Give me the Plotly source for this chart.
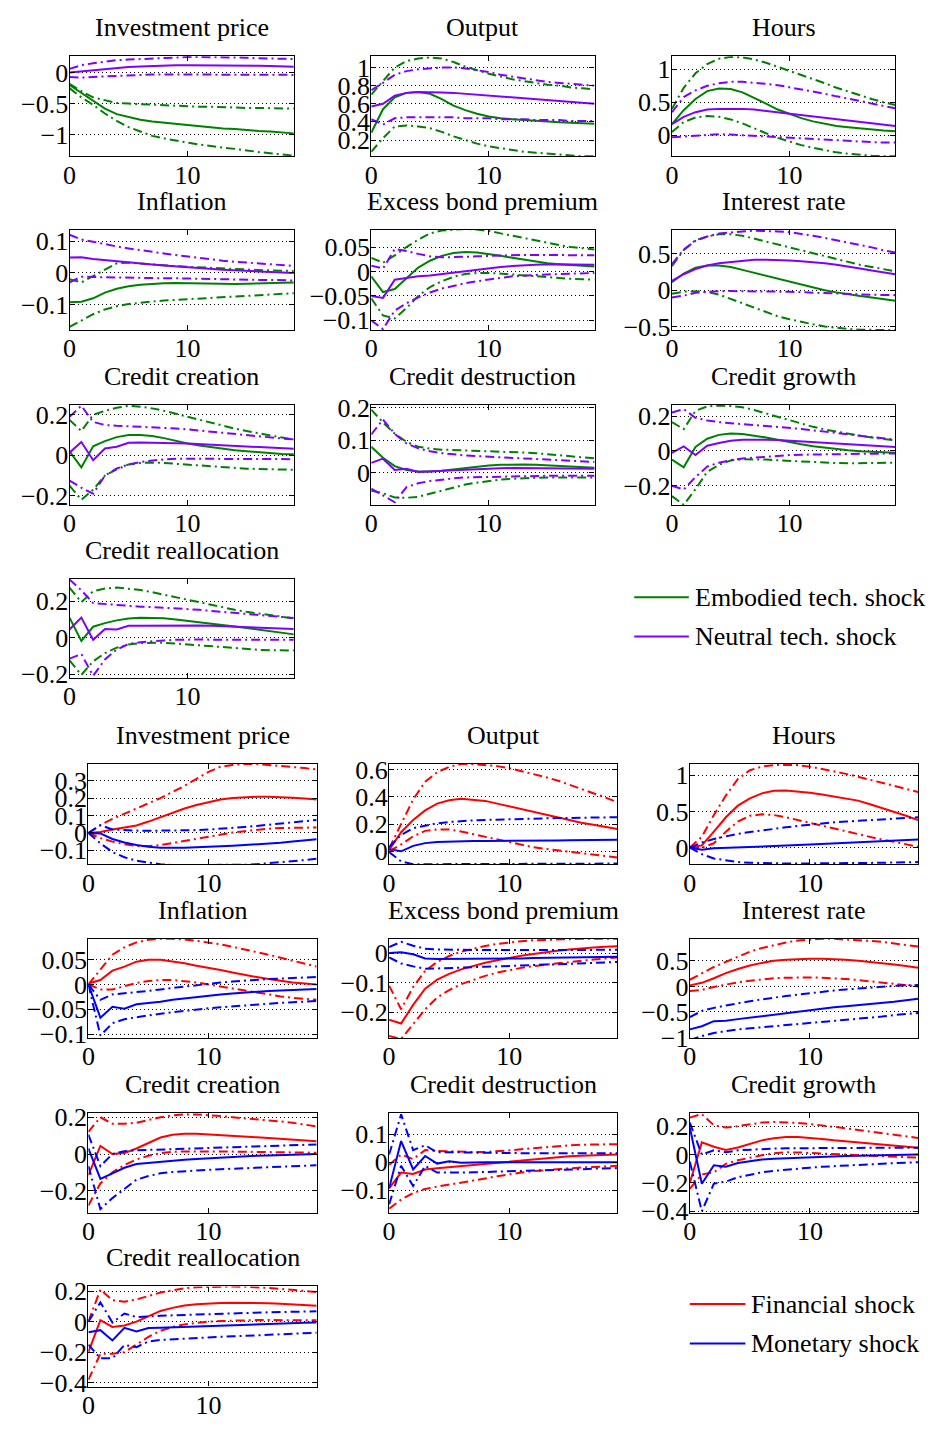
import plotly.graph_objects as go

# Impulse-response horizons (quarters)
H = list(range(20))

# ---------------- Embodied vs neutral technology shocks ----------------
EMB_INVP_M = [-0.2, -0.33, -0.45, -0.58, -0.67, -0.72, -0.76, -0.79, -0.81, -0.83, -0.85, -0.87, -0.88, -0.9, -0.91, -0.93, -0.94, -0.95, -0.97, -0.98]
EMB_INVP_U = [-0.18, -0.3, -0.4, -0.45, -0.49, -0.5, -0.51, -0.52, -0.53, -0.54, -0.54, -0.55, -0.55, -0.56, -0.56, -0.57, -0.57, -0.57, -0.58, -0.58]
EMB_INVP_L = [-0.25, -0.4, -0.52, -0.66, -0.78, -0.88, -0.95, -1.02, -1.06, -1.1, -1.13, -1.16, -1.19, -1.21, -1.23, -1.26, -1.28, -1.3, -1.32, -1.34]
NEU_INVP_M = [0.0, 0.02, 0.04, 0.06, 0.075, 0.09, 0.1, 0.11, 0.115, 0.12, 0.12, 0.12, 0.12, 0.12, 0.12, 0.115, 0.11, 0.105, 0.1, 0.095]
NEU_INVP_U = [0.06, 0.12, 0.15, 0.18, 0.2, 0.21, 0.22, 0.23, 0.24, 0.25, 0.25, 0.25, 0.25, 0.25, 0.24, 0.24, 0.23, 0.23, 0.22, 0.22]
NEU_INVP_L = [-0.07, -0.08, -0.07, -0.06, -0.05, -0.04, -0.035, -0.03, -0.03, -0.03, -0.03, -0.03, -0.03, -0.03, -0.03, -0.03, -0.035, -0.035, -0.035, -0.037]

EMB_OUT_M = [0.28, 0.54, 0.67, 0.72, 0.73, 0.71, 0.65, 0.58, 0.53, 0.49, 0.46, 0.44, 0.43, 0.42, 0.41, 0.4, 0.395, 0.39, 0.385, 0.38]
EMB_OUT_U = [0.7, 0.85, 1.0, 1.07, 1.1, 1.11, 1.1, 1.06, 1.01, 0.97, 0.93, 0.9, 0.87, 0.85, 0.83, 0.81, 0.8, 0.78, 0.77, 0.76]
EMB_OUT_L = [0.07, 0.22, 0.35, 0.36, 0.35, 0.33, 0.29, 0.24, 0.2, 0.16, 0.13, 0.11, 0.09, 0.07, 0.06, 0.05, 0.04, 0.03, 0.02, 0.02]
NEU_OUT_M = [0.57, 0.6, 0.69, 0.72, 0.73, 0.73, 0.725, 0.72, 0.71, 0.7, 0.69, 0.68, 0.67, 0.66, 0.65, 0.64, 0.63, 0.62, 0.61, 0.6]
NEU_OUT_U = [0.75, 0.83, 0.92, 0.96, 0.98, 0.99, 1.0, 1.0, 0.99, 0.97, 0.95, 0.92, 0.9, 0.88, 0.86, 0.84, 0.83, 0.82, 0.81, 0.8]
NEU_OUT_L = [0.43, 0.37, 0.44, 0.45, 0.45, 0.45, 0.45, 0.45, 0.44, 0.44, 0.44, 0.43, 0.43, 0.43, 0.42, 0.42, 0.42, 0.41, 0.41, 0.41]

EMB_HRS_M = [0.17, 0.38, 0.55, 0.67, 0.71, 0.7, 0.65, 0.57, 0.48, 0.39, 0.32, 0.26, 0.21, 0.17, 0.14, 0.12, 0.1, 0.08, 0.07, 0.06]
EMB_HRS_U = [0.4, 0.72, 0.94, 1.08, 1.16, 1.19, 1.18, 1.15, 1.1, 1.04, 0.98, 0.91, 0.85, 0.79, 0.72, 0.66, 0.6, 0.55, 0.5, 0.46]
EMB_HRS_L = [0.05, 0.2, 0.27, 0.29, 0.28, 0.24, 0.18, 0.1, 0.03, -0.04, -0.1, -0.15, -0.19, -0.23, -0.26, -0.28, -0.3, -0.31, -0.32, -0.32]
NEU_HRS_M = [0.17, 0.28, 0.35, 0.39, 0.4, 0.405, 0.4, 0.39, 0.37, 0.35, 0.33, 0.31, 0.29, 0.27, 0.25, 0.22, 0.2, 0.18, 0.16, 0.14]
NEU_HRS_U = [0.35, 0.58, 0.68, 0.75, 0.79, 0.81, 0.81, 0.8, 0.78, 0.76, 0.73, 0.7, 0.66, 0.63, 0.59, 0.56, 0.52, 0.48, 0.44, 0.41]
NEU_HRS_L = [-0.03, -0.02, 0.0, 0.01, 0.015, 0.01, 0.0, -0.01, -0.025, -0.035, -0.045, -0.055, -0.065, -0.075, -0.085, -0.09, -0.1, -0.105, -0.11, -0.11]

EMB_INF_M = [-0.092, -0.091, -0.08, -0.062, -0.05, -0.042, -0.037, -0.034, -0.033, -0.032, -0.033, -0.034, -0.035, -0.035, -0.035, -0.034, -0.033, -0.032, -0.031, -0.03]
EMB_INF_U = [-0.02, -0.03, -0.01, 0.01, 0.03, 0.032, 0.03, 0.027, 0.024, 0.021, 0.019, 0.017, 0.015, 0.013, 0.011, 0.01, 0.009, 0.008, 0.007, 0.006]
EMB_INF_L = [-0.17, -0.15, -0.13, -0.115, -0.105, -0.098, -0.093, -0.09, -0.087, -0.085, -0.083, -0.081, -0.079, -0.077, -0.075, -0.073, -0.071, -0.068, -0.066, -0.064]
NEU_INF_M = [0.048, 0.049, 0.044, 0.04, 0.036, 0.033, 0.03, 0.026, 0.023, 0.02, 0.017, 0.015, 0.012, 0.01, 0.008, 0.006, 0.004, 0.002, 0.001, 0.0]
NEU_INF_U = [0.12, 0.105, 0.098, 0.09, 0.083, 0.077, 0.071, 0.066, 0.061, 0.056, 0.051, 0.047, 0.042, 0.038, 0.035, 0.032, 0.029, 0.026, 0.024, 0.022]
NEU_INF_L = [-0.03, -0.012, -0.013, -0.014, -0.015, -0.015, -0.016, -0.016, -0.017, -0.017, -0.018, -0.018, -0.019, -0.019, -0.02, -0.021, -0.022, -0.022, -0.023, -0.024]

EMB_EBP_M = [-0.01, -0.042, -0.036, -0.015, 0.008, 0.022, 0.032, 0.038, 0.04, 0.039, 0.036, 0.032, 0.028, 0.024, 0.02, 0.017, 0.015, 0.013, 0.011, 0.01]
EMB_EBP_U = [0.028, 0.018, 0.033, 0.05, 0.065, 0.078, 0.084, 0.086, 0.087, 0.086, 0.083, 0.078, 0.073, 0.068, 0.063, 0.058, 0.054, 0.05, 0.047, 0.045]
EMB_EBP_L = [-0.055, -0.09, -0.096, -0.075, -0.05, -0.032, -0.02, -0.011, -0.005, -0.003, -0.003, -0.004, -0.006, -0.008, -0.01, -0.012, -0.014, -0.015, -0.016, -0.017]
NEU_EBP_M = [-0.05, -0.054, -0.017, -0.013, -0.01, -0.008, -0.005, -0.002, 0.001, 0.004, 0.007, 0.009, 0.011, 0.013, 0.014, 0.015, 0.015, 0.015, 0.014, 0.014]
NEU_EBP_U = [0.012, 0.006, 0.046, 0.042, 0.036, 0.031, 0.029, 0.029, 0.03, 0.031, 0.032, 0.033, 0.034, 0.034, 0.034, 0.034, 0.034, 0.034, 0.034, 0.033]
NEU_EBP_L = [-0.1, -0.118, -0.08, -0.065, -0.053, -0.043, -0.035, -0.029, -0.024, -0.02, -0.016, -0.013, -0.01, -0.008, -0.007, -0.006, -0.005, -0.004, -0.003, -0.003]

EMB_INT_M = [0.11, 0.23, 0.31, 0.34, 0.34, 0.32, 0.28, 0.24, 0.2, 0.15, 0.11, 0.07, 0.03, 0.0, -0.03, -0.06, -0.08, -0.1, -0.12, -0.145]
EMB_INT_U = [0.33, 0.55, 0.69, 0.74, 0.77, 0.77, 0.75, 0.71, 0.67, 0.62, 0.58, 0.54, 0.5, 0.46, 0.42, 0.38, 0.35, 0.32, 0.29, 0.26]
EMB_INT_L = [-0.05, -0.02, -0.015, -0.025, -0.06, -0.12, -0.18, -0.25, -0.31, -0.36, -0.4, -0.44, -0.47, -0.5, -0.52, -0.535, -0.545, -0.55, -0.55, -0.55]
NEU_INT_M = [0.13, 0.22, 0.29, 0.34, 0.37, 0.39, 0.41, 0.42, 0.42, 0.42, 0.41, 0.4, 0.39, 0.37, 0.35, 0.33, 0.3, 0.27, 0.245, 0.22]
NEU_INT_U = [0.36, 0.56, 0.68, 0.74, 0.78, 0.8, 0.81, 0.82, 0.82, 0.81, 0.8, 0.78, 0.75, 0.72, 0.69, 0.66, 0.62, 0.59, 0.55, 0.52]
NEU_INT_L = [-0.1, -0.075, -0.035, -0.02, -0.015, -0.012, -0.012, -0.013, -0.015, -0.018, -0.022, -0.028, -0.035, -0.042, -0.05, -0.055, -0.06, -0.063, -0.066, -0.068]

EMB_CC_M = [0.02, -0.06, 0.045, 0.07, 0.09, 0.1, 0.1, 0.095, 0.085, 0.07, 0.058, 0.048, 0.04, 0.032, 0.025, 0.02, 0.015, 0.01, 0.007, 0.005]
EMB_CC_U = [0.175, 0.12, 0.2, 0.22, 0.235, 0.245, 0.24, 0.232, 0.22, 0.205, 0.19, 0.175, 0.16, 0.145, 0.132, 0.12, 0.108, 0.098, 0.088, 0.078]
EMB_CC_L = [-0.15, -0.22, -0.17, -0.1, -0.07, -0.045, -0.038, -0.036, -0.038, -0.042, -0.047, -0.052, -0.057, -0.061, -0.064, -0.066, -0.068, -0.069, -0.07, -0.071]
NEU_CC_M = [0.013, 0.066, -0.024, 0.034, 0.042, 0.062, 0.063, 0.063, 0.062, 0.06, 0.058, 0.055, 0.052, 0.049, 0.046, 0.043, 0.04, 0.037, 0.034, 0.032]
NEU_CC_U = [0.19, 0.245, 0.165, 0.15, 0.146, 0.144, 0.142, 0.14, 0.137, 0.133, 0.128, 0.122, 0.116, 0.11, 0.104, 0.098, 0.093, 0.088, 0.083, 0.079]
NEU_CC_L = [-0.125, -0.16, -0.19, -0.1, -0.065, -0.045, -0.033, -0.025, -0.02, -0.017, -0.016, -0.016, -0.017, -0.018, -0.018, -0.019, -0.019, -0.019, -0.019, -0.019]

EMB_CD_M = [0.08, 0.046, 0.02, 0.008, 0.003, 0.003, 0.006, 0.01, 0.015, 0.019, 0.022, 0.024, 0.025, 0.025, 0.024, 0.022, 0.02, 0.018, 0.016, 0.015]
EMB_CD_U = [0.195, 0.155, 0.12, 0.095, 0.08, 0.074, 0.071, 0.07, 0.069, 0.068, 0.067, 0.066, 0.064, 0.062, 0.06, 0.057, 0.054, 0.05, 0.047, 0.044]
EMB_CD_L = [-0.056, -0.064, -0.077, -0.078, -0.075, -0.065, -0.055, -0.045, -0.037, -0.031, -0.026, -0.022, -0.019, -0.017, -0.016, -0.015, -0.015, -0.015, -0.015, -0.015]
NEU_CD_M = [0.03, 0.043, 0.008, 0.012, 0.002, 0.003, 0.005, 0.007, 0.009, 0.011, 0.012, 0.013, 0.014, 0.014, 0.014, 0.013, 0.013, 0.012, 0.012, 0.012]
NEU_CD_U = [0.118, 0.164, 0.12, 0.09, 0.075, 0.066, 0.06, 0.056, 0.053, 0.051, 0.049, 0.047, 0.045, 0.043, 0.041, 0.039, 0.037, 0.035, 0.034, 0.033]
NEU_CD_L = [-0.05, -0.072, -0.092, -0.045, -0.033, -0.026, -0.021, -0.018, -0.015, -0.014, -0.013, -0.012, -0.011, -0.011, -0.01, -0.01, -0.01, -0.01, -0.01, -0.01]

EMB_CG_M = [-0.05, -0.094, 0.023, 0.07, 0.092, 0.1, 0.097, 0.088, 0.077, 0.064, 0.05, 0.038, 0.027, 0.018, 0.01, 0.004, -0.002, -0.006, -0.008, -0.01]
EMB_CG_U = [0.165, 0.125, 0.23, 0.255, 0.26, 0.258, 0.25, 0.235, 0.215, 0.195, 0.175, 0.155, 0.138, 0.123, 0.11, 0.098, 0.087, 0.077, 0.068, 0.06]
EMB_CG_L = [-0.26, -0.31, -0.22, -0.12, -0.08, -0.055, -0.048, -0.047, -0.05, -0.054, -0.058, -0.062, -0.065, -0.068, -0.07, -0.071, -0.071, -0.07, -0.069, -0.068]
NEU_CG_M = [-0.011, 0.026, -0.024, 0.03, 0.045, 0.058, 0.064, 0.065, 0.064, 0.062, 0.058, 0.054, 0.05, 0.046, 0.042, 0.038, 0.034, 0.03, 0.026, 0.023]
NEU_CG_U = [0.22, 0.24, 0.19, 0.175, 0.165, 0.16, 0.155, 0.15, 0.145, 0.14, 0.133, 0.126, 0.118, 0.11, 0.102, 0.094, 0.086, 0.079, 0.071, 0.064]
NEU_CG_L = [-0.2, -0.222, -0.15, -0.09, -0.068, -0.053, -0.044, -0.038, -0.033, -0.028, -0.024, -0.022, -0.02, -0.019, -0.019, -0.018, -0.017, -0.016, -0.015, -0.015]

EMB_CR_M = [0.11, -0.018, 0.06, 0.08, 0.095, 0.105, 0.11, 0.11, 0.106, 0.1, 0.093, 0.085, 0.077, 0.069, 0.061, 0.053, 0.045, 0.037, 0.028, 0.018]
EMB_CR_U = [0.275, 0.195, 0.255, 0.27, 0.275, 0.27, 0.262, 0.25, 0.236, 0.222, 0.207, 0.192, 0.178, 0.165, 0.153, 0.142, 0.132, 0.122, 0.114, 0.106]
EMB_CR_L = [-0.125, -0.205, -0.13, -0.085, -0.055, -0.038, -0.03, -0.027, -0.028, -0.032, -0.037, -0.043, -0.049, -0.055, -0.06, -0.064, -0.067, -0.069, -0.07, -0.071]
NEU_CR_M = [0.045, 0.11, -0.012, 0.048, 0.045, 0.065, 0.066, 0.067, 0.068, 0.068, 0.068, 0.067, 0.065, 0.063, 0.061, 0.058, 0.056, 0.053, 0.05, 0.048]
NEU_CR_U = [0.32, 0.26, 0.19, 0.185, 0.178, 0.172, 0.17, 0.168, 0.165, 0.162, 0.158, 0.153, 0.147, 0.141, 0.135, 0.129, 0.123, 0.118, 0.113, 0.108]
NEU_CR_L = [-0.115, -0.09, -0.21, -0.12, -0.065, -0.035, -0.025, -0.019, -0.015, -0.012, -0.01, -0.01, -0.011, -0.011, -0.012, -0.012, -0.012, -0.012, -0.012, -0.012]

# ---------------- Financial vs monetary shocks ----------------
FIN_INVP_M = [0.0, 0.005, 0.02, 0.03, 0.043, 0.065, 0.09, 0.115, 0.14, 0.16, 0.178, 0.192, 0.2, 0.205, 0.207, 0.208, 0.206, 0.202, 0.197, 0.192]
FIN_INVP_U = [0.0, 0.045, 0.08, 0.11, 0.14, 0.17, 0.2, 0.235, 0.27, 0.31, 0.35, 0.38, 0.39, 0.395, 0.395, 0.39, 0.385, 0.38, 0.372, 0.364]
FIN_INVP_L = [0.0, -0.03, -0.05, -0.065, -0.075, -0.075, -0.07, -0.058, -0.045, -0.032, -0.02, -0.008, 0.002, 0.01, 0.018, 0.024, 0.028, 0.03, 0.031, 0.031]
MON_INVP_M = [0.0, -0.003, -0.035, -0.055, -0.07, -0.08, -0.085, -0.086, -0.085, -0.083, -0.081, -0.078, -0.074, -0.07, -0.066, -0.062, -0.057, -0.049, -0.042, -0.036]
MON_INVP_U = [0.0, 0.044, 0.02, 0.015, 0.013, 0.012, 0.012, 0.013, 0.014, 0.016, 0.019, 0.023, 0.028, 0.034, 0.04, 0.046, 0.052, 0.058, 0.066, 0.074]
MON_INVP_L = [0.0, -0.06, -0.11, -0.14, -0.16, -0.172, -0.18, -0.185, -0.185, -0.185, -0.185, -0.185, -0.185, -0.183, -0.18, -0.175, -0.17, -0.163, -0.156, -0.149]

FIN_OUT_M = [0.01, 0.14, 0.23, 0.3, 0.35, 0.375, 0.385, 0.38, 0.37, 0.35, 0.33, 0.305, 0.285, 0.265, 0.245, 0.225, 0.21, 0.195, 0.18, 0.164]
FIN_OUT_U = [0.02, 0.2, 0.38, 0.51, 0.58, 0.62, 0.64, 0.64, 0.635, 0.625, 0.61, 0.59, 0.57, 0.545, 0.52, 0.49, 0.46, 0.43, 0.395, 0.36]
FIN_OUT_L = [0.0, 0.05, 0.11, 0.15, 0.16, 0.16, 0.145, 0.125, 0.105, 0.085, 0.065, 0.045, 0.03, 0.018, 0.008, -0.002, -0.012, -0.025, -0.036, -0.046]
MON_OUT_M = [0.016, 0.0, 0.04, 0.06, 0.068, 0.072, 0.074, 0.075, 0.075, 0.075, 0.076, 0.077, 0.078, 0.079, 0.08, 0.081, 0.082, 0.083, 0.084, 0.085]
MON_OUT_U = [0.03, 0.12, 0.17, 0.19, 0.205, 0.215, 0.222, 0.227, 0.23, 0.233, 0.236, 0.238, 0.24, 0.242, 0.244, 0.245, 0.246, 0.247, 0.248, 0.25]
MON_OUT_L = [-0.005, -0.075, -0.095, -0.095, -0.094, -0.093, -0.092, -0.091, -0.09, -0.09, -0.09, -0.09, -0.09, -0.09, -0.09, -0.09, -0.09, -0.09, -0.09, -0.09]

FIN_HRS_M = [0.0, 0.03, 0.22, 0.42, 0.58, 0.68, 0.75, 0.785, 0.79, 0.78, 0.76, 0.735, 0.71, 0.68, 0.65, 0.6, 0.55, 0.5, 0.44, 0.38]
FIN_HRS_U = [0.0, 0.15, 0.45, 0.72, 0.95, 1.07, 1.12, 1.14, 1.145, 1.14, 1.12, 1.09, 1.06, 1.02, 0.98, 0.94, 0.9, 0.86, 0.82, 0.77]
FIN_HRS_L = [0.0, 0.0, 0.06, 0.22, 0.36, 0.44, 0.46, 0.45, 0.42, 0.38, 0.34, 0.3, 0.26, 0.22, 0.18, 0.15, 0.11, 0.08, 0.045, 0.012]
MON_HRS_M = [0.0, -0.03, -0.01, -0.005, 0.0, 0.005, 0.012, 0.02, 0.027, 0.035, 0.042, 0.05, 0.057, 0.065, 0.072, 0.08, 0.087, 0.095, 0.103, 0.111]
MON_HRS_U = [0.0, 0.07, 0.12, 0.16, 0.19, 0.215, 0.24, 0.26, 0.28, 0.3, 0.32, 0.335, 0.35, 0.36, 0.37, 0.38, 0.39, 0.4, 0.41, 0.42]
MON_HRS_L = [0.0, -0.09, -0.15, -0.18, -0.2, -0.21, -0.215, -0.218, -0.22, -0.22, -0.22, -0.22, -0.22, -0.218, -0.215, -0.212, -0.21, -0.206, -0.203, -0.2]

FIN_INF_M = [0.002, 0.009, 0.028, 0.036, 0.046, 0.05, 0.05, 0.047, 0.043, 0.038, 0.034, 0.029, 0.024, 0.019, 0.015, 0.011, 0.007, 0.004, 0.002, 0.0]
FIN_INF_U = [0.0, 0.03, 0.06, 0.075, 0.085, 0.09, 0.092, 0.092, 0.091, 0.088, 0.085, 0.081, 0.076, 0.071, 0.066, 0.06, 0.054, 0.048, 0.042, 0.036]
FIN_INF_L = [0.0, -0.01, -0.01, -0.004, 0.003, 0.007, 0.009, 0.009, 0.007, 0.004, 0.0, -0.004, -0.009, -0.013, -0.017, -0.021, -0.024, -0.027, -0.029, -0.031]
MON_INF_M = [0.0, -0.067, -0.045, -0.049, -0.04, -0.038, -0.035, -0.031, -0.028, -0.025, -0.022, -0.02, -0.018, -0.016, -0.015, -0.013, -0.012, -0.011, -0.01, -0.009]
MON_INF_U = [0.0, -0.031, -0.02, -0.018, -0.015, -0.013, -0.01, -0.007, -0.004, -0.001, 0.002, 0.004, 0.006, 0.008, 0.01, 0.011, 0.012, 0.013, 0.014, 0.015]
MON_INF_L = [0.0, -0.103, -0.078, -0.07, -0.066, -0.062, -0.059, -0.056, -0.053, -0.05, -0.048, -0.046, -0.044, -0.042, -0.041, -0.039, -0.037, -0.036, -0.034, -0.033]

FIN_EBP_M = [-0.225, -0.238, -0.175, -0.12, -0.09, -0.07, -0.055, -0.043, -0.033, -0.024, -0.016, -0.009, -0.003, 0.003, 0.008, 0.012, 0.016, 0.019, 0.021, 0.023]
FIN_EBP_U = [-0.11, -0.19, -0.115, -0.06, -0.03, -0.01, 0.005, 0.015, 0.024, 0.031, 0.036, 0.04, 0.043, 0.045, 0.046, 0.047, 0.048, 0.048, 0.048, 0.048]
FIN_EBP_L = [-0.28, -0.29, -0.24, -0.19, -0.15, -0.125, -0.105, -0.09, -0.077, -0.066, -0.057, -0.05, -0.044, -0.039, -0.034, -0.03, -0.026, -0.022, -0.018, -0.015]
MON_EBP_M = [0.0, 0.003, -0.004, -0.018, -0.02, -0.02, -0.02, -0.02, -0.019, -0.019, -0.018, -0.018, -0.017, -0.016, -0.016, -0.015, -0.014, -0.013, -0.013, -0.012]
MON_EBP_U = [0.02, 0.038, 0.025, 0.015, 0.012, 0.011, 0.01, 0.01, 0.01, 0.01, 0.01, 0.01, 0.01, 0.01, 0.01, 0.01, 0.011, 0.011, 0.011, 0.011]
MON_EBP_L = [-0.015, -0.035, -0.045, -0.053, -0.052, -0.05, -0.049, -0.047, -0.046, -0.045, -0.043, -0.042, -0.041, -0.039, -0.038, -0.036, -0.035, -0.033, -0.032, -0.03]

FIN_INT_M = [0.02, 0.07, 0.16, 0.26, 0.34, 0.41, 0.46, 0.5, 0.52, 0.535, 0.54, 0.54, 0.535, 0.52, 0.5, 0.48, 0.46, 0.43, 0.4, 0.365]
FIN_INT_U = [0.13, 0.26, 0.38, 0.48, 0.58, 0.68, 0.75, 0.81, 0.86, 0.9, 0.92, 0.93, 0.93, 0.92, 0.91, 0.89, 0.87, 0.84, 0.81, 0.78]
FIN_INT_L = [-0.09, -0.07, -0.01, 0.04, 0.08, 0.11, 0.14, 0.16, 0.17, 0.175, 0.175, 0.17, 0.16, 0.145, 0.125, 0.1, 0.075, 0.05, 0.025, 0.0]
MON_INT_M = [-0.84, -0.78, -0.68, -0.67, -0.64, -0.61, -0.58, -0.55, -0.52, -0.49, -0.46, -0.44, -0.41, -0.39, -0.37, -0.345, -0.32, -0.3, -0.27, -0.243]
MON_INT_U = [-0.6, -0.48, -0.42, -0.37, -0.33, -0.29, -0.25, -0.22, -0.19, -0.16, -0.13, -0.1, -0.08, -0.06, -0.04, -0.02, 0.0, 0.01, 0.02, 0.026]
MON_INT_L = [-1.05, -0.97, -0.91, -0.87, -0.84, -0.82, -0.8, -0.78, -0.76, -0.74, -0.72, -0.7, -0.68, -0.66, -0.63, -0.61, -0.59, -0.56, -0.54, -0.52]

FIN_CC_M = [-0.115, 0.044, 0.0, 0.005, 0.03, 0.06, 0.09, 0.105, 0.11, 0.11, 0.107, 0.103, 0.099, 0.095, 0.091, 0.087, 0.083, 0.079, 0.074, 0.069]
FIN_CC_U = [0.12, 0.2, 0.165, 0.165, 0.17, 0.185, 0.2, 0.21, 0.215, 0.215, 0.212, 0.207, 0.2, 0.195, 0.19, 0.184, 0.177, 0.17, 0.16, 0.15]
FIN_CC_L = [-0.28, -0.16, -0.1, -0.06, -0.03, -0.01, 0.005, 0.012, 0.014, 0.015, 0.015, 0.014, 0.013, 0.012, 0.011, 0.01, 0.01, 0.009, 0.008, 0.007]
MON_CC_M = [0.03, -0.135, -0.105, -0.075, -0.055, -0.048, -0.042, -0.036, -0.031, -0.027, -0.023, -0.019, -0.016, -0.013, -0.01, -0.008, -0.006, -0.004, -0.002, 0.0]
MON_CC_U = [0.105, -0.066, 0.0, 0.015, 0.02, 0.022, 0.024, 0.026, 0.028, 0.03, 0.032, 0.034, 0.036, 0.038, 0.04, 0.042, 0.045, 0.047, 0.05, 0.052]
MON_CC_L = [-0.066, -0.3, -0.24, -0.19, -0.14, -0.12, -0.105, -0.098, -0.093, -0.089, -0.086, -0.083, -0.08, -0.077, -0.074, -0.071, -0.068, -0.066, -0.063, -0.061]

FIN_CD_M = [-0.093, -0.037, -0.042, -0.026, -0.022, -0.018, -0.014, -0.01, -0.006, -0.002, 0.002, 0.006, 0.01, 0.014, 0.018, 0.021, 0.023, 0.025, 0.026, 0.027]
FIN_CD_U = [-0.01, 0.027, 0.011, 0.043, 0.04, 0.038, 0.037, 0.036, 0.036, 0.038, 0.042, 0.046, 0.05, 0.054, 0.057, 0.06, 0.062, 0.063, 0.064, 0.064]
FIN_CD_L = [-0.165, -0.133, -0.11, -0.095, -0.087, -0.08, -0.074, -0.066, -0.058, -0.05, -0.043, -0.037, -0.032, -0.028, -0.025, -0.022, -0.019, -0.017, -0.015, -0.013]
MON_CD_M = [-0.093, 0.075, -0.026, 0.022, -0.005, 0.003, -0.002, 0.0, 0.0, 0.0, 0.0, 0.0, 0.0, 0.0, 0.0, 0.0, 0.0, 0.0, 0.0, 0.0]
MON_CD_U = [0.027, 0.17, 0.043, 0.06, 0.035, 0.036, 0.035, 0.034, 0.033, 0.032, 0.032, 0.032, 0.032, 0.032, 0.032, 0.032, 0.032, 0.032, 0.032, 0.032]
MON_CD_L = [-0.15, -0.013, -0.085, -0.013, -0.037, -0.038, -0.037, -0.036, -0.035, -0.034, -0.032, -0.031, -0.03, -0.029, -0.027, -0.026, -0.025, -0.023, -0.022, -0.021]

FIN_CG_M = [-0.2, 0.086, 0.055, 0.032, 0.05, 0.075, 0.1, 0.115, 0.123, 0.123, 0.118, 0.11, 0.1, 0.092, 0.085, 0.077, 0.07, 0.062, 0.055, 0.048]
FIN_CG_U = [0.26, 0.285, 0.206, 0.19, 0.2, 0.215, 0.225, 0.23, 0.228, 0.222, 0.215, 0.206, 0.196, 0.185, 0.173, 0.162, 0.15, 0.139, 0.128, 0.117]
FIN_CG_L = [-0.24, -0.14, -0.125, -0.065, -0.04, -0.02, -0.005, 0.01, 0.016, 0.015, 0.012, 0.008, 0.004, 0.0, -0.004, -0.008, -0.012, -0.016, -0.019, -0.022]
MON_CG_M = [0.19, -0.206, -0.075, -0.086, -0.06, -0.045, -0.035, -0.03, -0.026, -0.022, -0.018, -0.015, -0.012, -0.01, -0.008, -0.006, -0.004, -0.003, -0.001, 0.0]
MON_CG_U = [0.225, 0.0, 0.03, 0.016, 0.03, 0.035, 0.04, 0.042, 0.044, 0.045, 0.046, 0.047, 0.047, 0.048, 0.048, 0.048, 0.048, 0.048, 0.048, 0.048]
MON_CG_L = [-0.05, -0.4, -0.205, -0.19, -0.16, -0.14, -0.125, -0.115, -0.106, -0.099, -0.092, -0.086, -0.081, -0.076, -0.072, -0.068, -0.064, -0.06, -0.057, -0.054]

FIN_CR_M = [-0.2, 0.009, -0.035, -0.025, 0.0, 0.035, 0.07, 0.09, 0.105, 0.113, 0.118, 0.121, 0.123, 0.123, 0.122, 0.12, 0.117, 0.113, 0.108, 0.103]
FIN_CR_U = [0.0, 0.21, 0.14, 0.13, 0.145, 0.17, 0.19, 0.205, 0.218, 0.225, 0.228, 0.229, 0.229, 0.228, 0.225, 0.22, 0.214, 0.208, 0.201, 0.194]
FIN_CR_L = [-0.38, -0.21, -0.21, -0.2, -0.15, -0.1, -0.06, -0.035, -0.018, -0.008, 0.0, 0.004, 0.007, 0.009, 0.01, 0.01, 0.01, 0.009, 0.009, 0.009]
MON_CR_M = [-0.07, -0.056, -0.123, -0.041, -0.065, -0.042, -0.04, -0.037, -0.034, -0.031, -0.028, -0.025, -0.022, -0.02, -0.018, -0.015, -0.013, -0.011, -0.008, -0.006]
MON_CR_U = [0.0, 0.126, -0.006, 0.053, 0.029, 0.035, 0.038, 0.041, 0.044, 0.047, 0.05, 0.053, 0.055, 0.057, 0.059, 0.061, 0.063, 0.065, 0.066, 0.067]
MON_CR_L = [-0.15, -0.24, -0.24, -0.153, -0.167, -0.13, -0.12, -0.115, -0.11, -0.106, -0.102, -0.099, -0.096, -0.093, -0.09, -0.087, -0.084, -0.081, -0.077, -0.073]

TITLES = ["Investment price", "Output", "Hours", "Inflation", "Excess bond premium",
          "Interest rate", "Credit creation", "Credit destruction", "Credit growth",
          "Credit reallocation"]

# y-axis ticks for each panel
TOP_YTICKS = [[-1, -0.5, 0], [0.2, 0.4, 0.6, 0.8, 1], [0, 0.5, 1], [-0.1, 0, 0.1],
              [-0.1, -0.05, 0, 0.05], [-0.5, 0, 0.5], [-0.2, 0, 0.2], [0, 0.1, 0.2],
              [-0.2, 0, 0.2], [-0.2, 0, 0.2]]
BOT_YTICKS = [[-0.1, 0, 0.1, 0.2, 0.3], [0, 0.2, 0.4, 0.6], [0, 0.5, 1], [-0.1, -0.05, 0, 0.05],
              [-0.2, -0.1, 0], [-1, -0.5, 0, 0.5], [-0.2, 0, 0.2], [-0.1, 0, 0.1],
              [-0.4, -0.2, 0, 0.2], [-0.4, -0.2, 0, 0.2]]

# ---------------- styling / layout ----------------
W, HT = 930, 1434
FONT = "Liberation Serif, Times New Roman, serif"
FS = 26
GREEN, PURPLE, RED, BLUE = "#008000", "#8000ff", "#ff0000", "#0000ff"
DASHDOT = "9px,4px,2px,4px"

TOP_YRANGE = [[-1.35, 0.265], [0.02, 1.125], [-0.32, 1.2], [-0.18, 0.135], [-0.12, 0.085],
              [-0.55, 0.83], [-0.245, 0.25], [-0.1, 0.21], [-0.31, 0.265], [-0.22, 0.325]]
BOT_YRANGE = [[-0.18, 0.395], [-0.095, 0.64], [-0.23, 1.155], [-0.108, 0.092], [-0.287, 0.048],
              [-1.01, 0.93], [-0.32, 0.225], [-0.18, 0.176], [-0.41, 0.295], [-0.425, 0.23]]

# panel boxes in page pixels: (left, right) columns and (top, bottom) rows
TOP_COLS = [(63, 289), (367, 592), (670, 895)]
TOP_ROWS = [(46, 148), (223, 325), (401, 503), (578, 679)]
BOT_COLS = [(82, 312), (385, 615), (688, 918)]
BOT_ROWS = [(767, 869), (945, 1046), (1122, 1224), (1299, 1401)]


def fx(px):
    return px / W


def fy(py):
    return 1 - py / HT


def fmt(v):
    s = ("%g" % v)
    return s.replace("-", "\u2212")


top_series = [
    (EMB_INVP_M, EMB_INVP_U, EMB_INVP_L, NEU_INVP_M, NEU_INVP_U, NEU_INVP_L),
    (EMB_OUT_M, EMB_OUT_U, EMB_OUT_L, NEU_OUT_M, NEU_OUT_U, NEU_OUT_L),
    (EMB_HRS_M, EMB_HRS_U, EMB_HRS_L, NEU_HRS_M, NEU_HRS_U, NEU_HRS_L),
    (EMB_INF_M, EMB_INF_U, EMB_INF_L, NEU_INF_M, NEU_INF_U, NEU_INF_L),
    (EMB_EBP_M, EMB_EBP_U, EMB_EBP_L, NEU_EBP_M, NEU_EBP_U, NEU_EBP_L),
    (EMB_INT_M, EMB_INT_U, EMB_INT_L, NEU_INT_M, NEU_INT_U, NEU_INT_L),
    (EMB_CC_M, EMB_CC_U, EMB_CC_L, NEU_CC_M, NEU_CC_U, NEU_CC_L),
    (EMB_CD_M, EMB_CD_U, EMB_CD_L, NEU_CD_M, NEU_CD_U, NEU_CD_L),
    (EMB_CG_M, EMB_CG_U, EMB_CG_L, NEU_CG_M, NEU_CG_U, NEU_CG_L),
    (EMB_CR_M, EMB_CR_U, EMB_CR_L, NEU_CR_M, NEU_CR_U, NEU_CR_L),
]
bot_series = [
    (FIN_INVP_M, FIN_INVP_U, FIN_INVP_L, MON_INVP_M, MON_INVP_U, MON_INVP_L),
    (FIN_OUT_M, FIN_OUT_U, FIN_OUT_L, MON_OUT_M, MON_OUT_U, MON_OUT_L),
    (FIN_HRS_M, FIN_HRS_U, FIN_HRS_L, MON_HRS_M, MON_HRS_U, MON_HRS_L),
    (FIN_INF_M, FIN_INF_U, FIN_INF_L, MON_INF_M, MON_INF_U, MON_INF_L),
    (FIN_EBP_M, FIN_EBP_U, FIN_EBP_L, MON_EBP_M, MON_EBP_U, MON_EBP_L),
    (FIN_INT_M, FIN_INT_U, FIN_INT_L, MON_INT_M, MON_INT_U, MON_INT_L),
    (FIN_CC_M, FIN_CC_U, FIN_CC_L, MON_CC_M, MON_CC_U, MON_CC_L),
    (FIN_CD_M, FIN_CD_U, FIN_CD_L, MON_CD_M, MON_CD_U, MON_CD_L),
    (FIN_CG_M, FIN_CG_U, FIN_CG_L, MON_CG_M, MON_CG_U, MON_CG_L),
    (FIN_CR_M, FIN_CR_U, FIN_CR_L, MON_CR_M, MON_CR_U, MON_CR_L),
]

fig = go.Figure()
layout = {}
annotations = []
shapes = []

groups = [
    (top_series, TOP_COLS, TOP_ROWS, TOP_YRANGE, TOP_YTICKS, (GREEN, PURPLE)),
    (bot_series, BOT_COLS, BOT_ROWS, BOT_YRANGE, BOT_YTICKS, (RED, BLUE)),
]

ax = 0
for series, cols, rows, yranges, yticks, colors in groups:
    for i, lines in enumerate(series):
        ax += 1
        r, c = divmod(i, 3)
        x0, x1 = cols[c]
        y0, y1 = rows[r]
        xa = "x" if ax == 1 else "x%d" % ax
        ya = "y" if ax == 1 else "y%d" % ax
        for k, c_line in enumerate(colors):
            mid, up, lo = lines[3 * k], lines[3 * k + 1], lines[3 * k + 2]
            for vals, dash in ((up, DASHDOT), (lo, DASHDOT), (mid, "solid")):
                fig.add_trace(go.Scatter(
                    x=H, y=vals, mode="lines", xaxis=xa, yaxis=ya,
                    line=dict(color=c_line, width=2, dash=dash),
                    showlegend=False, hoverinfo="skip"))
        common = dict(showline=True, linecolor="black", linewidth=1.3, mirror="ticks",
                      ticks="inside", ticklen=5, tickcolor="black", tickwidth=1,
                      zeroline=False, tickfont=dict(family=FONT, size=FS, color="black"))
        layout["xaxis" if ax == 1 else "xaxis%d" % ax] = dict(
            domain=[fx(x0), fx(x1)], anchor=ya, range=[0, 19],
            tickmode="array", tickvals=[0, 10], ticktext=["0", "10"],
            showgrid=False, ticklabelstandoff=-5, **common)
        layout["yaxis" if ax == 1 else "yaxis%d" % ax] = dict(
            domain=[fy(y1), fy(y0)], anchor=xa, range=yranges[i],
            tickmode="array", tickvals=yticks[i], ticktext=[fmt(v) for v in yticks[i]],
            showgrid=True, gridcolor="black", gridwidth=1, griddash="1px,3px",
            ticklabelstandoff=-5, **common)
        annotations.append(dict(
            text=TITLES[i], x=fx((x0 + x1) / 2), y=fy(y0 - 29), xref="paper", yref="paper",
            xanchor="center", yanchor="middle", showarrow=False,
            font=dict(family=FONT, size=FS, color="black")))

# legends drawn as keyed lines with labels
legend_items = [
    (632, 687, 597, GREEN, "Embodied tech. shock"),
    (632, 687, 637, PURPLE, "Neutral tech. shock"),
    (688, 744, 1317, RED, "Financial shock"),
    (688, 744, 1357, BLUE, "Monetary shock"),
]
for lx0, lx1, ly, col, label in legend_items:
    shapes.append(dict(type="line", xref="paper", yref="paper",
                       x0=fx(lx0), x1=fx(lx1), y0=fy(ly), y1=fy(ly),
                       line=dict(color=col, width=2)))
    annotations.append(dict(text=label, x=fx(lx1 + 4), y=fy(ly), xref="paper", yref="paper",
                            xanchor="left", yanchor="middle", showarrow=False,
                            font=dict(family=FONT, size=FS, color="black")))

fig.update_layout(
    width=W, height=HT, margin=dict(l=0, r=0, t=0, b=0),
    paper_bgcolor="white", plot_bgcolor="white",
    annotations=annotations, shapes=shapes, **layout)

fig.write_html("out.html")
